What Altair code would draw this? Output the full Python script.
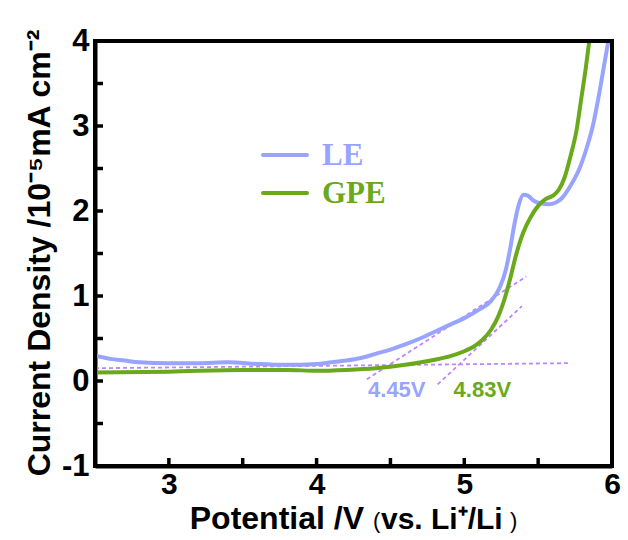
import altair as alt
import pandas as pd

# ---- data ----
le_x = [2.5, 2.6, 2.7, 2.8, 3.0, 3.2, 3.4, 3.6, 3.8, 4.0, 4.1, 4.2, 4.3, 4.4, 4.5, 4.6, 4.7, 4.8, 4.9,
        5.0, 5.1, 5.18, 5.24, 5.28, 5.31, 5.34, 5.37, 5.40, 5.43, 5.47, 5.52, 5.57, 5.62, 5.66, 5.72,
        5.78, 5.83, 5.87, 5.91, 5.95, 5.98]
le_y = [0.30, 0.26, 0.24, 0.22, 0.21, 0.21, 0.22, 0.20, 0.19, 0.20, 0.22, 0.24, 0.27, 0.32, 0.37, 0.43,
        0.50, 0.58, 0.66, 0.74, 0.84, 0.94, 1.10, 1.30, 1.55, 1.85, 2.08, 2.19, 2.18, 2.12, 2.09, 2.08,
        2.10, 2.15, 2.30, 2.50, 2.75, 3.00, 3.35, 3.75, 4.05]

gpe_x = [2.5, 3.0, 3.5, 3.8, 4.0, 4.2, 4.4, 4.6, 4.8, 4.9, 5.0, 5.06, 5.12, 5.18, 5.23, 5.27, 5.31,
         5.35, 5.40, 5.45, 5.50, 5.55, 5.60, 5.64, 5.68, 5.72, 5.76, 5.79, 5.82, 5.85]
gpe_y = [0.10, 0.11, 0.13, 0.13, 0.12, 0.13, 0.15, 0.19, 0.25, 0.29, 0.35, 0.40, 0.48, 0.60, 0.76,
         0.95, 1.20, 1.48, 1.75, 1.93, 2.06, 2.14, 2.18, 2.25, 2.40, 2.65, 2.95, 3.30, 3.65, 4.05]

# dashed tangent / baseline segments
tangent_names = ["base", "le_tan", "gpe_tan"]
tangent_x1 = [2.5, 4.34, 4.82]
tangent_y1 = [0.15, 0.02, -0.04]
tangent_x2 = [5.71, 5.42, 5.39]
tangent_y2 = [0.21, 1.23, 0.88]

# onset potential labels
onset_text = ["4.45V", "4.83V"]
onset_x = [4.543, 5.122]
onset_y = [-0.11, -0.11]
onset_series = ["LE", "GPE"]

x_labels = [3, 4, 5, 6]
y_labels = [-1, 0, 1, 2, 3, 4]
x_major = [3, 4, 5]
x_minor = [3.5, 4.5, 5.5]
y_major = [0, 1, 2, 3]
y_minor = [-0.5, 0.5, 1.5, 2.5, 3.5]

series_names = ["LE", "GPE"]
series_colors = ["#98a4ff", "#6aa81c"]

L, T = 95, 41
W, H = 517, 425
FONT = "Liberation Sans"

df = pd.concat([
    pd.DataFrame({"x": le_x, "y": le_y, "series": "LE"}),
    pd.DataFrame({"x": gpe_x, "y": gpe_y, "series": "GPE"}),
])
tan_df = pd.DataFrame({"name": tangent_names, "x": tangent_x1, "y": tangent_y1,
                       "x2": tangent_x2, "y2": tangent_y2})
lab_df = pd.DataFrame({"t": onset_text, "x": onset_x, "y": onset_y, "series": onset_series})
xt_df = pd.DataFrame({"v": x_major + x_minor})
yt_df = pd.DataFrame({"v": y_major + y_minor})

xs = alt.Scale(domain=[2.5, 6], nice=False, zero=False)
ys = alt.Scale(domain=[-1, 4], nice=False, zero=False)
cs = alt.Scale(domain=series_names, range=series_colors)

xaxis = alt.Axis(values=x_labels, title=None, domain=True, domainColor="#000000", domainWidth=4,
                 domainOpacity=1, ticks=False, grid=False,
                 labelExpr="'' + datum.value",
                 labelFont=FONT, labelFontWeight="bold", labelFontSize=30, labelColor="black",
                 labelPadding=3, labelFlush=False, labelOverlap=False)
yaxis = alt.Axis(values=y_labels, title=None, domain=True, domainColor="#000000", domainWidth=4,
                 domainOpacity=1, ticks=False, grid=False,
                 labelExpr="'' + datum.value",
                 labelFont=FONT, labelFontWeight="bold", labelFontSize=31, labelColor="black",
                 labelPadding=6, labelFlush=False, labelOverlap=False)

base_axes = alt.Chart(df).mark_point(opacity=0).encode(
    x=alt.X("x:Q", scale=xs, axis=xaxis),
    y=alt.Y("y:Q", scale=ys, axis=yaxis),
)

tangents = alt.Chart(tan_df).mark_rule(color="#c084ff", strokeWidth=1.8, strokeDash=[4, 3]).encode(
    x=alt.X("x:Q", scale=xs), y=alt.Y("y:Q", scale=ys), x2="x2:Q", y2="y2:Q")

lines = alt.Chart(df).mark_line(strokeWidth=4, clip=True, interpolate="monotone").encode(
    x=alt.X("x:Q", scale=xs),
    y=alt.Y("y:Q", scale=ys),
    color=alt.Color("series:N", scale=cs, legend=None),
    detail="series:N",
)

labels = alt.Chart(lab_df).mark_text(font=FONT, fontWeight="bold", fontSize=22, align="center",
                                     baseline="middle").encode(
    x=alt.X("x:Q", scale=xs), y=alt.Y("y:Q", scale=ys), text="t:N",
    color=alt.Color("series:N", scale=cs, legend=None))

# inward ticks as filled tick marks
xticks = alt.Chart(xt_df).mark_tick(orient="vertical", size=8, thickness=3.5, color="#000000",
                                    fill="#000000", opacity=1, fillOpacity=1).encode(
    x=alt.X("v:Q", scale=xs), y=alt.value(H - 4))
yticks = alt.Chart(yt_df).mark_tick(orient="horizontal", size=8, thickness=3.5, color="#000000",
                                    fill="#000000", opacity=1, fillOpacity=1).encode(
    y=alt.Y("v:Q", scale=ys), x=alt.value(4))

# plot frame as four filled bars (pixel edges of the plot area)
fw = 2
frame_df = pd.DataFrame({"fx": [-fw, -fw, -fw, W - fw], "fx2": [W + fw, W + fw, fw, W + fw],
                         "fy": [-fw, H - fw, -fw, -fw], "fy2": [fw, H + fw, H + fw, H + fw]})
frame = alt.Chart(frame_df).mark_rect(color="#000000", fill="#000000", opacity=1,
                                      fillOpacity=1).encode(
    x=alt.X("fx:Q", scale=None), x2="fx2:Q", y=alt.Y("fy:Q", scale=None), y2="fy2:Q")

# legend (manual)
leg_df = pd.DataFrame({"series": series_names, "ly": [155 - T, 193 - T]})
leg_lines = alt.Chart(leg_df).mark_rule(strokeWidth=4, strokeCap="round").encode(
    x=alt.value(263 - L), x2=alt.value(307 - L), y=alt.Y("ly:Q", scale=None),
    color=alt.Color("series:N", scale=cs, legend=None))
leg_text = alt.Chart(leg_df).mark_text(font="Liberation Serif", fontWeight="bold", fontSize=31,
                                       align="left", baseline="middle", dy=1).encode(
    x=alt.value(322 - L), y=alt.Y("ly:Q", scale=None), text="series:N",
    color=alt.Color("series:N", scale=cs, legend=None))

# axis titles
ytitle = alt.Chart(pd.DataFrame({"t": ["Current Density /10\u207b\u2075mA cm\u207b\u00b2"]})).mark_text(
    font=FONT, fontWeight="bold", fontSize=32, angle=270, align="center", baseline="middle").encode(
    x=alt.value(40 - L), y=alt.value(253 - T), text="t:N")
xtitle1 = alt.Chart(pd.DataFrame({"t": ["Potential /V"]})).mark_text(
    font=FONT, fontWeight="bold", fontSize=32, align="right", baseline="alphabetic").encode(
    x=alt.value(364 - L), y=alt.value(529 - T), text="t:N")
xtitle_p1 = alt.Chart(pd.DataFrame({"t": ["("]})).mark_text(
    font=FONT, fontSize=22, align="left", baseline="alphabetic").encode(
    x=alt.value(373 - L), y=alt.value(528 - T), text="t:N")
xtitle2 = alt.Chart(pd.DataFrame({"t": ["vs. Li\u207a/Li"]})).mark_text(
    font=FONT, fontWeight="bold", fontSize=30, align="left", baseline="alphabetic").encode(
    x=alt.value(381 - L), y=alt.value(529 - T), text="t:N")
xtitle_p2 = alt.Chart(pd.DataFrame({"t": [")"]})).mark_text(
    font=FONT, fontSize=22, align="left", baseline="alphabetic").encode(
    x=alt.value(510 - L), y=alt.value(528 - T), text="t:N")

chart = alt.layer(base_axes, tangents, lines, labels, xticks, yticks, frame, leg_lines, leg_text,
                  ytitle, xtitle1, xtitle_p1, xtitle2, xtitle_p2).properties(
    width=W, height=H,
    background="white",
    autosize=alt.AutoSizeParams(type="none"),
    padding={"left": L, "top": T, "right": 628 - L - W, "bottom": 540 - T - H},
).configure_view(stroke="#000000", strokeWidth=4)

chart.save("out.html", embed_options={"renderer": "svg", "actions": False})
